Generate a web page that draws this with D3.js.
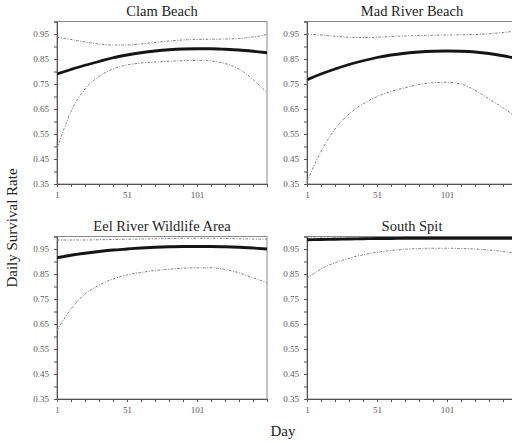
<!DOCTYPE html>
<html>
<head>
<meta charset="utf-8">
<script src="https://cdn.jsdelivr.net/npm/d3@7"></script>
<style>
  body { margin: 0; background: #fff; }
  svg { display: block; font-family: "Liberation Serif", "Times New Roman", serif; }
</style>
</head>
<body>
<div id="chart"></div>
<script>
// 資料：日數與各地點的日存活率（估計值與上下信賴界限）
const days = [1, 11, 21, 31, 41, 51, 61, 71, 81, 91, 101, 111, 121, 131, 141, 151];
const siteNames = ["Clam Beach", "Mad River Beach", "Eel River Wildlife Area", "South Spit"];

const clamEst   = [0.79, 0.808, 0.825, 0.84, 0.855, 0.866, 0.875, 0.882, 0.887, 0.89, 0.891, 0.891, 0.889, 0.886, 0.881, 0.875];
const clamUpper = [0.937, 0.928, 0.918, 0.91, 0.906, 0.906, 0.91, 0.916, 0.922, 0.926, 0.928, 0.929, 0.93, 0.932, 0.938, 0.948];
const clamLower = [0.49, 0.64, 0.73, 0.78, 0.81, 0.826, 0.834, 0.838, 0.841, 0.843, 0.844, 0.842, 0.832, 0.81, 0.768, 0.715];

const madEst   = [0.767, 0.79, 0.81, 0.828, 0.843, 0.856, 0.866, 0.873, 0.878, 0.881, 0.882, 0.881, 0.878, 0.872, 0.863, 0.852];
const madUpper = [0.95, 0.946, 0.941, 0.937, 0.936, 0.937, 0.94, 0.942, 0.944, 0.945, 0.946, 0.947, 0.948, 0.951, 0.956, 0.962];
const madLower = [0.36, 0.48, 0.57, 0.63, 0.67, 0.70, 0.72, 0.735, 0.748, 0.755, 0.757, 0.75, 0.725, 0.69, 0.655, 0.615];

const eelEst   = [0.915, 0.925, 0.933, 0.94, 0.946, 0.95, 0.954, 0.957, 0.959, 0.96, 0.96, 0.96, 0.959, 0.957, 0.954, 0.95];
const eelUpper = [0.986, 0.986, 0.986, 0.987, 0.988, 0.989, 0.99, 0.991, 0.992, 0.993, 0.993, 0.993, 0.992, 0.991, 0.99, 0.989];
const eelLower = [0.625, 0.71, 0.77, 0.805, 0.83, 0.846, 0.856, 0.864, 0.869, 0.873, 0.875, 0.875, 0.868, 0.855, 0.835, 0.815];

const spitEst   = [0.987, 0.988, 0.989, 0.99, 0.991, 0.992, 0.992, 0.993, 0.993, 0.993, 0.993, 0.993, 0.993, 0.993, 0.993, 0.993];
const spitUpper = [0.998, 0.998, 0.998, 0.998, 0.998, 0.998, 0.998, 0.998, 0.998, 0.998, 0.998, 0.998, 0.998, 0.998, 0.998, 0.998];
const spitLower = [0.833, 0.87, 0.895, 0.913, 0.927, 0.937, 0.944, 0.949, 0.952, 0.953, 0.953, 0.952, 0.95, 0.946, 0.94, 0.933];

const yTicks = [0.35, 0.45, 0.55, 0.65, 0.75, 0.85, 0.95];
const yMinorTicks = d3.range(0.35, 1.0001, 0.05);
const xTicks = [1, 51, 101];
const xMinorTicks = d3.range(1, 152, 10);

const sites = [
  { name: siteNames[0], est: clamEst, upper: clamUpper, lower: clamLower },
  { name: siteNames[1], est: madEst, upper: madUpper, lower: madLower },
  { name: siteNames[2], est: eelEst, upper: eelUpper, lower: eelLower },
  { name: siteNames[3], est: spitEst, upper: spitUpper, lower: spitLower }
];

// 版面設定
const width = 512;
const height = 442;
const pw = 210;
const ph = 162.5;
const origins = [[57, 21.5], [307, 21.5], [57, 236.5], [307, 236.5]];

const svg = d3.select("#chart")
  .append("svg")
  .attr("width", width)
  .attr("height", height);

const x = d3.scaleLinear().domain([1, 151]).range([0, pw]);
const y = d3.scaleLinear().domain([0.35, 1.0]).range([ph, 0]);

const line = d3.line()
  .x((d, i) => x(days[i]))
  .y(d => y(d))
  .curve(d3.curveMonotoneX);

svg.append("defs").append("clipPath")
  .attr("id", "clip")
  .append("rect")
  .attr("width", pw)
  .attr("height", ph + 1)
  .attr("y", -1);

sites.forEach(function (s, k) {
  const g = svg.append("g")
    .attr("transform", `translate(${origins[k][0]},${origins[k][1]})`);

  // 外框
  g.append("rect")
    .attr("width", pw)
    .attr("height", ph)
    .attr("fill", "none")
    .attr("stroke", "#8a8a8a")
    .attr("stroke-width", 1);

  // 小刻度
  g.append("g")
    .attr("transform", `translate(0,${ph})`)
    .call(d3.axisBottom(x).tickValues(xMinorTicks).tickSize(3).tickFormat(""))
    .call(a => a.select(".domain").remove());
  g.append("g")
    .call(d3.axisLeft(y).tickValues(yMinorTicks).tickSize(3).tickFormat(""))
    .call(a => a.select(".domain").remove());

  // 主刻度與標籤
  const xa = g.append("g")
    .attr("transform", `translate(0,${ph})`)
    .call(d3.axisBottom(x).tickValues(xTicks).tickSize(3).tickPadding(5).tickFormat(d3.format("d")));
  const ya = g.append("g")
    .call(d3.axisLeft(y).tickValues(yTicks).tickSize(3).tickPadding(5).tickFormat(d3.format(".2f")));

  g.selectAll(".tick line").attr("stroke", "#555");
  g.selectAll(".domain").attr("stroke", "#555");
  [xa, ya].forEach(a => a.selectAll("text")
    .attr("fill", "#5a5a5a")
    .style("font-family", "'Liberation Serif', serif")
    .style("font-size", "9px"));

  const plot = g.append("g").attr("clip-path", "url(#clip)");

  // 信賴區間（虛線）
  [s.upper, s.lower].forEach(function (arr) {
    plot.append("path")
      .datum(arr)
      .attr("d", line)
      .attr("fill", "none")
      .attr("stroke", "#808080")
      .attr("stroke-width", 1)
      .attr("stroke-dasharray", "2.5,1.5,1,1.5");
  });

  // 估計值（粗實線）
  plot.append("path")
    .datum(s.est)
    .attr("d", line)
    .attr("fill", "none")
    .attr("stroke", "#151515")
    .attr("stroke-width", 2.8);

  // 標題
  g.append("text")
    .attr("x", pw / 2)
    .attr("y", -6)
    .attr("text-anchor", "middle")
    .attr("fill", "#222")
    .style("font-size", "14.5px")
    .text(s.name);
});

// 軸標題
svg.append("text")
  .attr("transform", "translate(17,228) rotate(-90)")
  .attr("text-anchor", "middle")
  .attr("fill", "#222")
  .style("font-size", "15px")
  .text("Daily Survival Rate");

svg.append("text")
  .attr("x", 283)
  .attr("y", 436)
  .attr("text-anchor", "middle")
  .attr("fill", "#222")
  .style("font-size", "15px")
  .text("Day");
</script>
</body>
</html>
